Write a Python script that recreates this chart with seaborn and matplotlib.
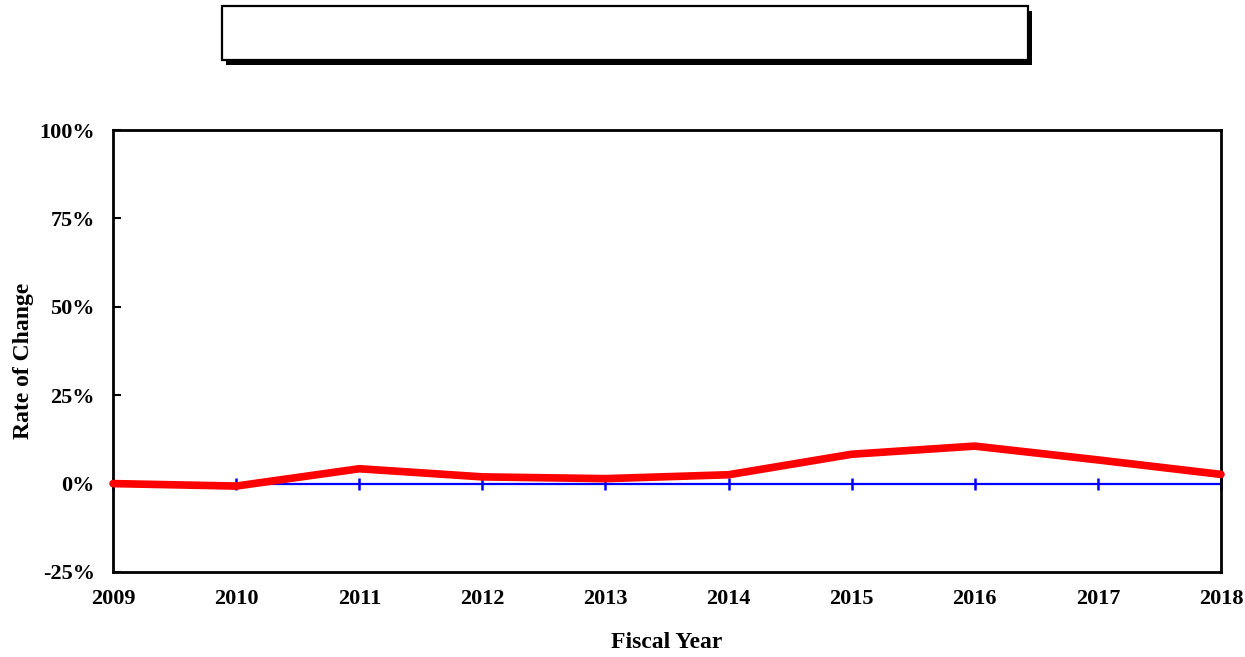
import numpy as np
import pandas as pd
import matplotlib
matplotlib.use("Agg")
import matplotlib.pyplot as plt
import matplotlib.patches as patches
import seaborn as sns

# values (rate of change, %)
years = [2009, 2010, 2011, 2012, 2013, 2014, 2015, 2016, 2017, 2018]
rate_pct = [0.0, -0.7, 4.2, 1.9, 1.4, 2.5, 8.3, 10.6, 6.7, 2.6]
y_ticks = [-25, 0, 25, 50, 75, 100]
y_tick_labels = ["-25%", "0%", "25%", "50%", "75%", "100%"]

df = pd.DataFrame({"year": years, "rate": rate_pct})

sns.set_style("white")
plt.rcParams["font.family"] = ["Liberation Serif", "DejaVu Serif"]
plt.rcParams["font.weight"] = "bold"
plt.rcParams["text.color"] = "black"
plt.rcParams["axes.labelcolor"] = "black"
plt.rcParams["xtick.color"] = "black"
plt.rcParams["ytick.color"] = "black"

fig = plt.figure(figsize=(12.45, 6.57), dpi=100)
ax = fig.add_axes([0.0908, 0.1294, 0.8899, 0.6727])

# zero line with year tick marks (Excel-style crossing axis)
ax.axhline(0, color="#0000ff", lw=1.6, zorder=2)
ax.plot(df["year"], np.zeros(len(df)), ls="none", marker="|", ms=9,
        mew=1.8, color="#0000ff", zorder=2, clip_on=False)

sns.lineplot(data=df, x="year", y="rate", color="#ff0000", lw=5.5,
             ax=ax, zorder=3, clip_on=False)

ax.set_xlim(years[0], years[-1])
ax.set_ylim(-25, 100)
ax.set_xticks(years)
ax.set_xticklabels([str(y) for y in years], fontsize=16, fontweight="bold")
ax.set_yticks(y_ticks)
ax.set_yticklabels(y_tick_labels, fontsize=16, fontweight="bold")
ax.tick_params(axis="x", length=0, pad=12)
ax.tick_params(axis="y", direction="in", length=6, width=1.5, left=True, pad=13)

ax.set_xlabel("Fiscal Year", fontsize=17, fontweight="bold", labelpad=17)
ax.set_ylabel("Rate of Change", fontsize=17, fontweight="bold")
ax.yaxis.set_label_coords(-0.0713, 0.477)

for s in ax.spines.values():
    s.set_visible(True)
    s.set_color("black")
    s.set_linewidth(2)

# empty title box with drop shadow
shadow = patches.Rectangle((0.1815, 0.9011), 0.6474, 0.0822, transform=fig.transFigure,
                           facecolor="black", edgecolor="none", zorder=1)
box = patches.Rectangle((0.1783, 0.9087), 0.6474, 0.0822, transform=fig.transFigure,
                        facecolor="white", edgecolor="black", lw=1.6, zorder=2)
fig.patches.extend([shadow, box])

fig.savefig("out.png", dpi=100)
